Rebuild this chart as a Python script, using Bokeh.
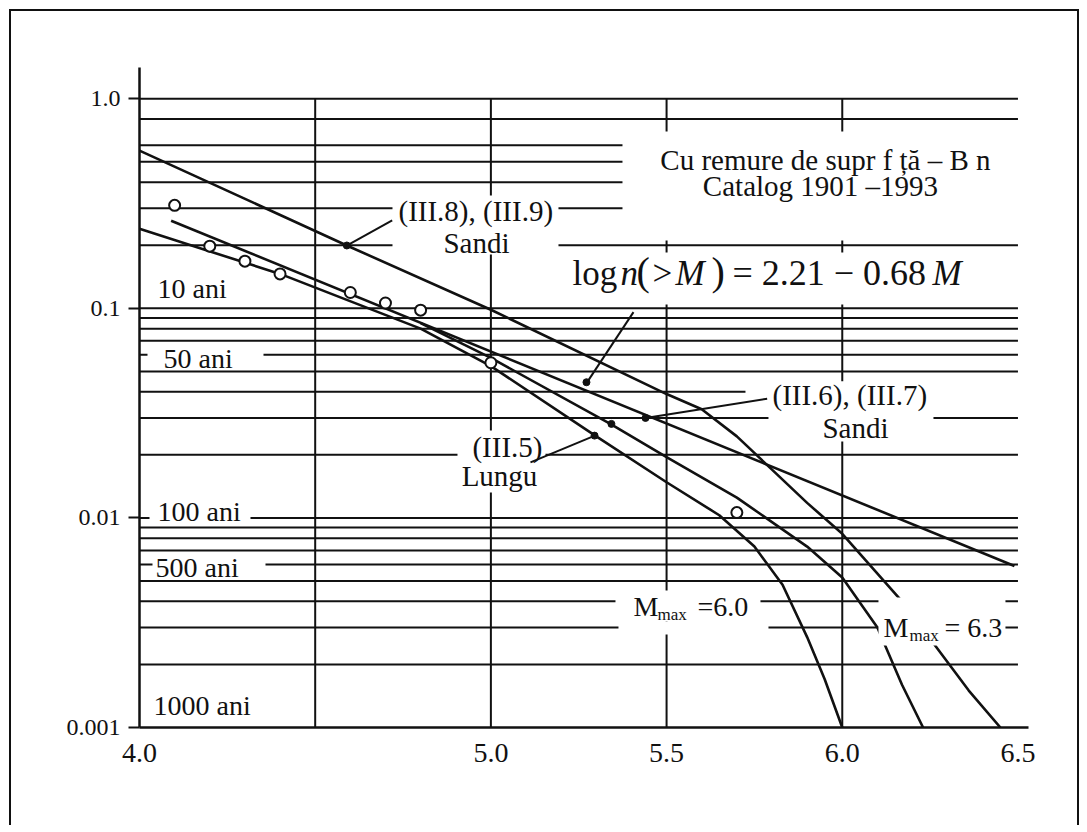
import math
from bokeh.plotting import figure
from bokeh.models import Range1d, FixedTicker, CustomJSTickFormatter, Label
from bokeh.embed import file_html
from bokeh.resources import INLINE

# ---------------- data ----------------
# observed catalogue rates (open circles)
obs_M = [4.1, 4.2, 4.3, 4.4, 4.6, 4.7, 4.8, 5.0, 5.7]
obs_n = [0.31, 0.198, 0.168, 0.146, 0.119, 0.106, 0.098, 0.055, 0.0106]

# log n(>M) = 2.21 - 0.68 M  (straight line)
gr_M = [4.09, 6.49]
gr_n = [0.262, 0.0059]

# (III.8), (III.9) Sandi - upper curve
s89_M = [4.0, 4.59, 5.0, 5.5, 5.6, 5.7, 5.8, 5.9, 6.0, 6.17, 6.36, 6.45]
s89_n = [0.566, 0.1995, 0.0985, 0.039, 0.033, 0.0245, 0.017, 0.0118, 0.0084, 0.004, 0.0015, 0.001]

# (III.6), (III.7) Sandi - middle curve
s67_M = [4.8, 5.0, 5.34, 5.5, 5.7, 5.9, 6.0, 6.1, 6.17, 6.23]
s67_n = [0.085, 0.058, 0.0281, 0.0195, 0.0125, 0.0073, 0.0052, 0.003, 0.0016, 0.001]

# (III.5) Lungu - inner curve (M_max = 6.0)
lu_M = [4.0, 4.4, 4.8, 5.0, 5.3, 5.5, 5.65, 5.75, 5.83, 5.9, 5.95, 6.0]
lu_n = [0.2395, 0.146, 0.08, 0.053, 0.0245, 0.0148, 0.0103, 0.0073, 0.0048, 0.0027, 0.0017, 0.001]

# points where the leader arrows touch the curves
dot_M = [4.59, 5.272, 5.44, 5.343, 5.295]
dot_n = [0.1995, 0.0444, 0.030, 0.0281, 0.0247]

# axis ticks
xtick_values = [4.0, 5.0, 5.5, 6.0, 6.5]
xtick_labels = ["4.0", "5.0", "5.5", "6.0", "6.5"]
ytick_values = [0.001, 0.01, 0.1, 1.0]
ytick_labels = ["0.001", "0.01", "0.1", "1.0"]

# grid levels
grid_x = [4.5, 5.0, 5.5, 6.0]
grid_y = [1.0, 0.8, 0.6, 0.5, 0.4, 0.3, 0.2,
          0.1, 0.09, 0.08, 0.07, 0.06, 0.05, 0.04, 0.03, 0.02,
          0.01, 0.009, 0.008, 0.007, 0.006, 0.005, 0.004, 0.003, 0.002]

# ---------------- layout helpers (page pixels -> data) ----------------
FX0, PXM = 139.0, 351.4     # page x of M=4.0, pixels per unit M
FY0, PYD = 98.3, 209.6      # page y of n=1.0, pixels per decade


def dm(x):
    return 4.0 + (x - FX0) / PXM


def dn(y):
    return 10 ** (-(y - FY0) / PYD)


FONT = "Liberation Serif"
INK = "#111111"

OX, OY = 11, 11            # page position of the canvas (margin 9 + border 2)
W, H = 1070, 816
p = figure(width=W, height=H,
           x_range=Range1d(4.0, 6.53), y_range=Range1d(0.001, 1.41),
           y_axis_type="log", output_backend="svg", toolbar_location=None,
           min_border_left=139 - OX, min_border_right=W - (1028 - OX),
           min_border_top=67 - OY, min_border_bottom=H - (727 - OY))
p.styles = {"margin-left": "9px", "margin-top": "9px",
            "border-left": "2px solid #111", "border-top": "2px solid #111",
            "border-right": "2px solid #111"}
p.xgrid.visible = False
p.ygrid.visible = False
p.outline_line_color = None
p.background_fill_color = "white"
p.border_fill_color = "white"

fmt_code = """
const i = vals.findIndex(v => Math.abs(v - tick) <= 1e-9 * Math.max(1, Math.abs(v)));
return i >= 0 ? labs[i] : "";
"""
p.xaxis.ticker = FixedTicker(ticks=xtick_values)
p.xaxis.formatter = CustomJSTickFormatter(args=dict(vals=xtick_values, labs=xtick_labels), code=fmt_code)
p.yaxis.ticker = FixedTicker(ticks=ytick_values)
p.yaxis.formatter = CustomJSTickFormatter(args=dict(vals=ytick_values, labs=ytick_labels), code=fmt_code)

for ax in (p.xaxis, p.yaxis):
    ax.axis_line_width = 2.5
    ax.axis_line_color = INK
    ax.minor_tick_line_color = None
    ax.major_tick_line_color = INK
    ax.major_tick_line_width = 2
    ax.major_label_text_font = FONT
    ax.major_label_text_color = INK
p.xaxis.major_tick_out = 0
p.xaxis.major_tick_in = 0
p.xaxis.major_label_text_font_size = "28px"
p.xaxis.major_label_standoff = 16
p.yaxis.major_tick_out = 11
p.yaxis.major_tick_in = 0
p.yaxis.major_label_text_font_size = "24px"
p.yaxis.major_label_standoff = 8

# ---------------- grid lines ----------------
p.segment(x0=[4.0] * len(grid_y), x1=[6.5] * len(grid_y), y0=grid_y, y1=grid_y,
          line_color=INK, line_width=2)
p.segment(x0=grid_x, x1=grid_x, y0=[0.001] * len(grid_x), y1=[1.0] * len(grid_x),
          line_color=INK, line_width=2)

# ---------------- curves ----------------
for xs, ys in ((gr_M, gr_n), (s89_M, s89_n), (s67_M, s67_n), (lu_M, lu_n)):
    p.line(xs, ys, line_color=INK, line_width=2.6)

# ---------------- white gaps where the text interrupts the lines ----------------
gaps = [  # page pixels: x0, x1, y0, y1
    (622, 1030, 131, 240),
    (562, 1030, 252, 304),
    (392, 558, 195, 254),
    (147, 263, 343, 367),
    (149, 250, 500, 523),
    (152, 265, 555, 577),
    (457, 545, 430, 492),
    (745, 1030, 381, 402),
    (768, 933, 381, 441),
    (615, 760, 590, 621),
    (618, 768, 621, 634),
    (878, 1005, 597, 645),
]
p.quad(left=[dm(g[0]) for g in gaps], right=[dm(g[1]) for g in gaps],
       top=[dn(g[2]) for g in gaps], bottom=[dn(g[3]) for g in gaps],
       fill_color="white", line_color=None)

# ---------------- leader arrows ----------------
arrows = [  # page pixels: label end -> curve point
    (391.7, 220.0, 346.7, 245.0),
    (633.0, 311.7, 586.7, 381.7),
    (766.7, 398.3, 646.7, 417.3),
    (530.0, 462.0, 595.0, 435.0),
]
p.segment(x0=[dm(a[0]) for a in arrows], y0=[dn(a[1]) for a in arrows],
          x1=[dm(a[2]) for a in arrows], y1=[dn(a[3]) for a in arrows],
          line_color=INK, line_width=2)
p.scatter(dot_M, dot_n, size=7, color=INK)

# observed points
p.scatter(obs_M, obs_n, size=11, fill_color="white", line_color=INK, line_width=2)


# ---------------- texts ----------------
def txt(s, x, y, size=28, align="left", style="normal", angle=0.0):
    p.add_layout(Label(x=dm(x), y=dn(y), text=s, text_font=FONT,
                       text_font_size=f"{size}px", text_font_style=style,
                       text_align=align, text_baseline="middle",
                       text_color=INK, angle=angle))


txt("Cu remure de supr f ță – B n", 825, 160, 29, "center")
txt("Catalog 1901 –1993", 820, 186, 29, "center")
txt("(III.8), (III.9)", 398, 211, 29)
txt("Sandi", 476, 243, 29, "center")
# equation  log n(> M) = 2.21 - 0.68M
eq_y = 273
txt("log", 572, eq_y, 35)
txt("n", 620, eq_y, 35, style="italic")
txt("(", 636, eq_y - 2, 40)
txt(">", 652, eq_y, 35)
txt("M", 675, eq_y, 35, style="italic")
txt(")", 711, eq_y - 2, 40)
txt("= 2.21 − 0.68", 732, eq_y, 36)
txt("M", 932, eq_y, 35, style="italic")

txt("10 ani", 157, 288, 28)
txt("50 ani", 163, 358, 28)
txt("100 ani", 157, 511, 28)
txt("500 ani", 155, 567, 28)
txt("1000 ani", 153, 705, 28)

txt("(III.6), (III.7)", 772, 395, 29)
txt("Sandi", 855, 428, 29, "center")
txt("(III.5)", 507, 447, 29, "center")
txt("Lungu", 499, 476, 29, "center")

txt("M", 633, 606, 28)
txt("max", 657, 614, 17)
txt("=6.0", 697, 606, 28)
txt("M", 883, 627, 28)
txt("max", 909, 635, 17)
txt("= 6.3", 944, 627, 28)

txt("Magnitudinea, M", 882, 794, 29, "center")
txt("n(>M) / an", 96, 208, 29, "center", angle=math.pi / 2)

open("out.html", "w").write(file_html(p, INLINE))
